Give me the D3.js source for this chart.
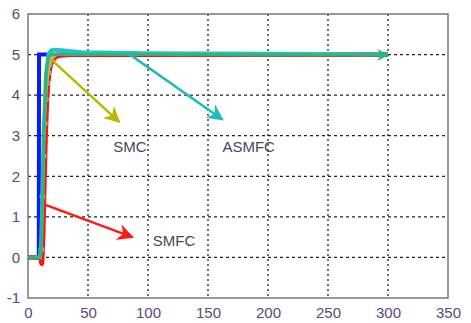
<!DOCTYPE html>
<html>
<head>
<meta charset="utf-8">
<script src="https://cdn.jsdelivr.net/npm/d3@7"></script>
<style>
  body { margin: 0; background: #fff; }
  svg { display: block; font-family: Arial, "Liberation Sans", sans-serif; }
  .tick text { fill: #5a4a78; font-size: 15px; }
</style>
</head>
<body>
<svg width="471" height="323"></svg>
<script>
/* Tick values */
const xTicks = [0, 50, 100, 150, 200, 250, 300, 350];
const yTicks = [-1, 0, 1, 2, 3, 4, 5, 6];

/* Series (time, output) */
const blueX = [0, 9, 9.2, 20, 300];
const blueY = [0, 0, 5.0, 5.0, 5.0];

const redX = [0, 10.5, 11.5, 12.5, 13.5, 14.5, 15.5, 16.5, 18, 20, 23, 27, 35, 300];
const redY = [0, 0, -0.15, 0.6, 1.9, 3.0, 3.8, 4.3, 4.65, 4.85, 4.95, 4.98, 5.0, 5.0];

const smcX = [11, 12, 13, 14, 15, 16, 17, 18, 20, 22];
const smcY = [0.2, 1.5, 2.5, 3.3, 3.9, 4.3, 4.55, 4.75, 4.92, 5.0];

const cyanX = [0, 10, 11, 12, 13, 15, 17, 19, 22, 30, 45, 100, 300];
const cyanY = [0, 0, 0.4, 1.5, 3.0, 4.5, 5.0, 5.1, 5.12, 5.1, 5.06, 5.03, 5.01];

const greenX = [0, 10, 11, 12, 13, 15, 17, 20, 30, 100, 200, 300];
const greenY = [0, 0, 0.4, 1.5, 3.0, 4.5, 4.95, 5.0, 5.0, 5.0, 4.99, 4.99];

/* Annotations: label, arrow start/end, text position (data units) */
const noteLabels = ['SMC', 'ASMFC', 'SMFC'];
const noteFrom = [[18.5, 4.9], [82, 5.06], [14, 1.3]];
const noteTo = [[76, 3.34], [162, 3.4], [87, 0.5]];
const noteText = [[71, 2.6], [162, 2.6], [104, 0.27]];
const noteColors = ['#b8b800', '#1cbcbc', '#ff1a1a'];

const svg = d3.select('svg');
const x = d3.scaleLinear().domain([0, 350]).range([28, 448]);
const y = d3.scaleLinear().domain([-1, 6]).range([298, 14]);

/* Grid */
const grid = svg.append('g');
grid.selectAll('.vg').data(xTicks.slice(1, -1)).enter().append('line')
  .attr('x1', d => x(d)).attr('x2', d => x(d))
  .attr('y1', y(6)).attr('y2', y(-1))
  .attr('stroke', '#222').attr('stroke-width', 1.3).attr('stroke-dasharray', '2,3');
grid.selectAll('.hg').data(yTicks.slice(1, -1)).enter().append('line')
  .attr('x1', x(0)).attr('x2', x(350))
  .attr('y1', d => y(d)).attr('y2', d => y(d))
  .attr('stroke', '#222').attr('stroke-width', 1.3).attr('stroke-dasharray', '3,3');

/* Axes */
const xAxis = svg.append('g').attr('transform', `translate(0,${y(-1)})`)
  .call(d3.axisBottom(x).tickValues(xTicks).tickFormat(d => String(d)).tickSize(0).tickPadding(9));
const yAxis = svg.append('g').attr('transform', `translate(${x(0)},0)`)
  .call(d3.axisLeft(y).tickValues(yTicks).tickFormat(d => String(d)).tickSize(0).tickPadding(8));
[xAxis, yAxis].forEach(a => a.select('.domain').remove());

svg.append('rect')
  .attr('x', x(0)).attr('y', y(6))
  .attr('width', x(350) - x(0)).attr('height', y(-1) - y(6))
  .attr('fill', 'none').attr('stroke', '#777').attr('stroke-width', 1.5);

/* Arrow markers */
const defs = svg.append('defs');
noteColors.concat(['#2ab87a']).forEach((c, i) => {
  defs.append('marker')
    .attr('id', 'arr' + i)
    .attr('viewBox', '0 0 10 10').attr('refX', 9).attr('refY', 5)
    .attr('markerWidth', i < 3 ? 6.5 : 4).attr('markerHeight', i < 3 ? 6.5 : 4)
    .attr('markerUnits', 'strokeWidth')
    .attr('orient', 'auto')
    .append('path').attr('d', 'M0,0L10,5L0,10L3,5Z').attr('fill', c);
});

/* Lines */
const line = d3.line().x(d => x(d[0])).y(d => y(d[1]));
const zip = (a, b) => a.map((v, i) => [v, b[i]]);

svg.append('path').datum(zip(blueX, blueY)).attr('d', line)
  .attr('fill', 'none').attr('stroke', '#0a1aff').attr('stroke-width', 4);
svg.append('path').datum(zip(redX, redY)).attr('d', line)
  .attr('fill', 'none').attr('stroke', '#ff1010').attr('stroke-width', 5)
  .attr('stroke-linejoin', 'round');
svg.append('path').datum(zip(smcX, smcY)).attr('d', line)
  .attr('fill', 'none').attr('stroke', '#e0d040').attr('stroke-width', 2);
svg.selectAll('.smc').data(zip(smcX, smcY)).enter().append('circle')
  .attr('cx', d => x(d[0])).attr('cy', d => y(d[1])).attr('r', 2.2)
  .attr('fill', 'none').attr('stroke', '#8ccc8c').attr('stroke-width', 1.2);
svg.append('path').datum(zip(cyanX, cyanY)).attr('d', line)
  .attr('fill', 'none').attr('stroke', '#22c4c4').attr('stroke-width', 4);
svg.append('path').datum(zip(greenX, greenY)).attr('d', line)
  .attr('fill', 'none').attr('stroke', '#35b27a').attr('stroke-width', 3)
  .attr('marker-end', 'url(#arr3)');

/* Annotations */
noteLabels.forEach((t, i) => {
  svg.append('line')
    .attr('x1', x(noteFrom[i][0])).attr('y1', y(noteFrom[i][1]))
    .attr('x2', x(noteTo[i][0])).attr('y2', y(noteTo[i][1]))
    .attr('stroke', noteColors[i]).attr('stroke-width', 2.5)
    .attr('marker-end', `url(#arr${i})`);
  svg.append('text')
    .attr('x', x(noteText[i][0])).attr('y', y(noteText[i][1]))
    .attr('fill', '#4a4460').attr('font-size', 15)
    .text(t);
});
</script>
</body>
</html>
